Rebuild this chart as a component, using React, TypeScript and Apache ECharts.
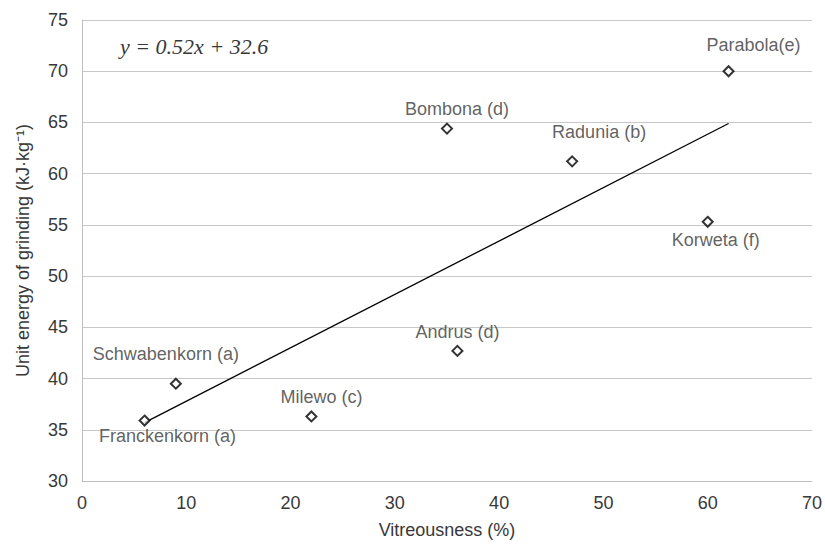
import React, { useEffect, useRef } from "react";
import * as echarts from "echarts";

const varieties = [
  "Franckenkorn (a)",
  "Schwabenkorn (a)",
  "Milewo (c)",
  "Andrus (d)",
  "Bombona (d)",
  "Radunia (b)",
  "Korweta (f)",
  "Parabola(e)",
];
const vitreousness = [6, 9, 22, 36, 35, 47, 60, 62];
const unitEnergy = [35.9, 39.5, 36.3, 42.7, 64.4, 61.2, 55.3, 70.0];

const trendX = [6, 62];
const trendY = [35.7, 64.9];

const equationText = "y = 0.52x + 32.6";
const xAxisName = "Vitreousness (%)";
const yAxisName = "Unit energy of grinding (kJ·kg⁻¹)";

// label offsets (px) relative to each marker centre
const labelOffsets: [number, number][] = [
  [23, 15],
  [-10, -30],
  [10, -19],
  [0, -19],
  [10, -20],
  [27, -29],
  [8, 18],
  [25, -26],
];

const FONT = "'Liberation Sans', Arial, sans-serif";
const TEXT = "#383838";

export default function App() {
  const ref = useRef<HTMLDivElement>(null);
  useEffect(() => {
    if (!ref.current) return;
    const chart = echarts.init(ref.current, null, { renderer: "svg" });
    const points = vitreousness.map((x, i) => ({
      value: [x, unitEnergy[i]],
      name: varieties[i],
      label: {
        show: true,
        position: "inside",
        offset: labelOffsets[i],
        formatter: varieties[i],
      },
    }));
    chart.setOption({
      animation: false,
      backgroundColor: "#ffffff",
      textStyle: { fontFamily: FONT },
      grid: { left: 82, right: 11, top: 20, bottom: 62, containLabel: false },
      xAxis: {
        type: "value",
        min: 0,
        max: 70,
        interval: 10,
        name: xAxisName,
        nameLocation: "middle",
        nameGap: 40,
        nameTextStyle: { fontSize: 18, color: TEXT, fontFamily: FONT },
        axisLine: { show: true, lineStyle: { color: "#bfbfbf", width: 1 } },
        axisTick: { show: false },
        axisLabel: { fontSize: 18, color: TEXT, margin: 13, fontFamily: FONT },
        splitLine: { show: false },
      },
      yAxis: {
        type: "value",
        min: 30,
        max: 75,
        interval: 5,
        name: yAxisName,
        nameLocation: "middle",
        nameGap: 50,
        nameTextStyle: { fontSize: 18, color: TEXT, fontFamily: FONT },
        axisLine: { show: true, lineStyle: { color: "#bfbfbf", width: 1 } },
        axisTick: { show: false },
        axisLabel: { fontSize: 18, color: TEXT, margin: 14, fontFamily: FONT },
        splitLine: { show: true, lineStyle: { color: "#c8c8c8", width: 1 } },
      },
      series: [
        {
          type: "line",
          data: trendX.map((x, i) => [x, trendY[i]]),
          symbol: "none",
          lineStyle: { color: "#000000", width: 1.3 },
          silent: true,
          z: 2,
        },
        {
          type: "scatter",
          data: points,
          symbol: "diamond",
          symbolSize: 10,
          itemStyle: { color: "#ffffff", borderColor: "#000000", borderWidth: 2 },
          label: { fontSize: 18, color: TEXT, fontFamily: FONT },
          z: 3,
        },
      ],
      graphic: [
        {
          type: "text",
          left: 120,
          top: 35,
          style: {
            text: equationText,
            font: "italic 22px 'Liberation Serif', 'Times New Roman', serif",
            fill: "#383838",
          },
        },
      ],
    });
    return () => chart.dispose();
  }, []);
  return (
    <div
      ref={ref}
      style={{ position: "absolute", left: 0, top: 0, width: 825, height: 544 }}
    />
  );
}
